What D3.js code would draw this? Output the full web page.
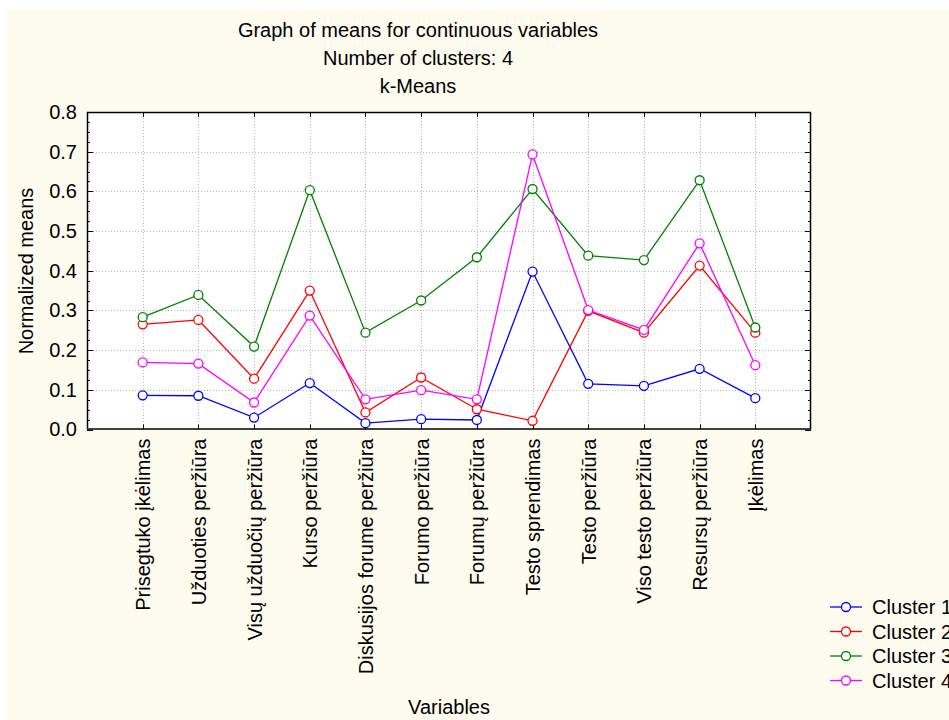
<!DOCTYPE html>
<html>
<head>
<meta charset="utf-8">
<script src="https://cdn.jsdelivr.net/npm/d3@7"></script>
<style>
  html, body { margin: 0; padding: 0; background: #ffffff; }
  svg { display: block; }
  text { font-family: "Liberation Sans", Arial, sans-serif; fill: #000; }
</style>
</head>
<body>
<svg id="chart" width="949" height="720"></svg>
<script>
const titleLines = ["Graph of means for continuous variables", "Number of clusters: 4", "k-Means"];
const categories = [
  "Prisegtuko įkėlimas", "Užduoties peržiūra", "Visų užduočių peržiūra", "Kurso peržiūra",
  "Diskusijos forume peržiūra", "Forumo peržiūra", "Forumų peržiūra", "Testo sprendimas",
  "Testo peržiūra", "Viso testo peržiūra", "Resursų peržiūra", "Įkėlimas"
];
const seriesNames = ["Cluster 1", "Cluster 2", "Cluster 3", "Cluster 4"];
const seriesColors = ["#0000ff", "#ff0000", "#008000", "#ff00ff"];
const cluster1 = [0.086, 0.085, 0.030, 0.117, 0.016, 0.026, 0.024, 0.398, 0.115, 0.110, 0.153, 0.079];
const cluster2 = [0.265, 0.276, 0.128, 0.350, 0.043, 0.131, 0.051, 0.022, 0.299, 0.244, 0.413, 0.244];
const cluster3 = [0.283, 0.339, 0.209, 0.603, 0.244, 0.325, 0.434, 0.606, 0.438, 0.427, 0.628, 0.257];
const cluster4 = [0.169, 0.166, 0.068, 0.287, 0.076, 0.099, 0.076, 0.693, 0.301, 0.251, 0.469, 0.162];
const yTicks = [0.0, 0.1, 0.2, 0.3, 0.4, 0.5, 0.6, 0.7, 0.8];
const yTitle = "Normalized means";
const xTitle = "Variables";

const series = [cluster1, cluster2, cluster3, cluster4];

const svg = d3.select("#chart");
const W = 949, H = 720;
const plot = { left: 87, right: 811, top: 112, bottom: 429.5 };

// background
svg.append("rect").attr("x", 0).attr("y", 0).attr("width", W).attr("height", H).attr("fill", "#ffffff");
svg.append("rect").attr("x", 7).attr("y", 10).attr("width", W - 7).attr("height", H - 10).attr("fill", "#fefbef");
svg.append("rect").attr("x", plot.left).attr("y", plot.top)
  .attr("width", plot.right - plot.left).attr("height", plot.bottom - plot.top).attr("fill", "#ffffff");

const x = d3.scaleLinear().domain([0, categories.length + 1]).range([plot.left, plot.right]);
const y = d3.scaleLinear().domain([0, 0.8]).range([plot.bottom, plot.top]);

// grid
const gGrid = svg.append("g").attr("stroke", "#b8b8b8").attr("stroke-width", 1).attr("stroke-dasharray", "1,2");
gGrid.selectAll("line.v").data(categories).enter().append("line")
  .attr("x1", (d, i) => Math.round(x(i + 1)) + 0.5).attr("x2", (d, i) => Math.round(x(i + 1)) + 0.5)
  .attr("y1", plot.top).attr("y2", plot.bottom);
gGrid.selectAll("line.h").data(yTicks.filter(t => t > 0 && t < 0.8)).enter().append("line")
  .attr("y1", d => Math.round(y(d)) + 0.5).attr("y2", d => Math.round(y(d)) + 0.5)
  .attr("x1", plot.left).attr("x2", plot.right);

// axes with inside ticks
const minorTicks = d3.range(0, 33).map(i => i * 0.025);
const gT = svg.append("g").attr("stroke", "#000").attr("stroke-width", 1);
minorTicks.forEach(t => {
  const isMajor = Math.abs(Math.round(t * 10) - t * 10) < 1e-6;
  const yy = Math.round(y(t)) + 0.5;
  const len = isMajor ? 6 : 3;
  gT.append("line").attr("x1", plot.left).attr("x2", plot.left + len).attr("y1", yy).attr("y2", yy);
  gT.append("line").attr("x1", plot.right).attr("x2", plot.right - len).attr("y1", yy).attr("y2", yy);
});
categories.forEach((c, i) => {
  const xx = Math.round(x(i + 1)) + 0.5;
  gT.append("line").attr("x1", xx).attr("x2", xx).attr("y1", plot.bottom).attr("y2", plot.bottom - 5);
  gT.append("line").attr("x1", xx).attr("x2", xx).attr("y1", plot.top).attr("y2", plot.top + 5);
});

// y-axis labels via d3 axis (labels only)
const yAxis = d3.axisLeft(y).tickValues(yTicks).tickFormat(d3.format(".1f")).tickSize(0).tickPadding(10);
const gY = svg.append("g").attr("transform", `translate(${plot.left},0)`).call(yAxis);
gY.select(".domain").remove();
gY.selectAll("text").attr("font-size", 20).attr("font-family", "Liberation Sans, Arial, sans-serif").attr("fill", "#000");

// x-axis labels via d3 axis, rotated
const xAxis = d3.axisBottom(x).tickValues(d3.range(1, categories.length + 1))
  .tickFormat(d => categories[d - 1]).tickSize(0);
const gX = svg.append("g").attr("transform", `translate(0,${plot.bottom})`).call(xAxis);
gX.select(".domain").remove();
gX.selectAll("text")
  .attr("font-size", 20).attr("font-family", "Liberation Sans, Arial, sans-serif").attr("fill", "#000")
  .attr("text-anchor", "end").attr("dy", null).attr("y", 0)
  .attr("transform", "translate(7,9) rotate(-90)");

// frame
svg.append("rect").attr("x", plot.left + 0.5).attr("y", plot.top + 0.5)
  .attr("width", plot.right - plot.left - 1).attr("height", plot.bottom - plot.top - 1)
  .attr("fill", "none").attr("stroke", "#000").attr("stroke-width", 1.5);

// lines
const line = d3.line().x((d, i) => x(i + 1)).y(d => y(d));
series.forEach((s, k) => {
  svg.append("path").datum(s).attr("d", line).attr("fill", "none")
    .attr("stroke", seriesColors[k]).attr("stroke-width", 1.3);
});
series.forEach((s, k) => {
  svg.append("g").selectAll("circle").data(s).enter().append("circle")
    .attr("cx", (d, i) => x(i + 1)).attr("cy", d => y(d)).attr("r", 4.5)
    .attr("fill", "#ffffff").attr("stroke", seriesColors[k]).attr("stroke-width", 1.3);
});

// titles
titleLines.forEach((t, i) => {
  svg.append("text").attr("x", 418).attr("y", 37 + i * 28).attr("text-anchor", "middle")
    .attr("font-size", 20).text(t);
});
svg.append("text").attr("transform", "translate(33,271) rotate(-90)").attr("text-anchor", "middle")
  .attr("font-size", 20).text(yTitle);
svg.append("text").attr("x", 449).attr("y", 714).attr("text-anchor", "middle")
  .attr("font-size", 20).text(xTitle);

// legend
const leg = svg.append("g");
seriesNames.forEach((n, k) => {
  const yy = 607 + k * 24.5;
  leg.append("line").attr("x1", 830).attr("x2", 862).attr("y1", yy).attr("y2", yy)
    .attr("stroke", seriesColors[k]).attr("stroke-width", 1.3);
  leg.append("circle").attr("cx", 846).attr("cy", yy).attr("r", 4.5)
    .attr("fill", "#ffffff").attr("stroke", seriesColors[k]).attr("stroke-width", 1.3);
  leg.append("text").attr("x", 872).attr("y", yy + 7).attr("font-size", 20).text(n);
});
</script>
</body>
</html>
